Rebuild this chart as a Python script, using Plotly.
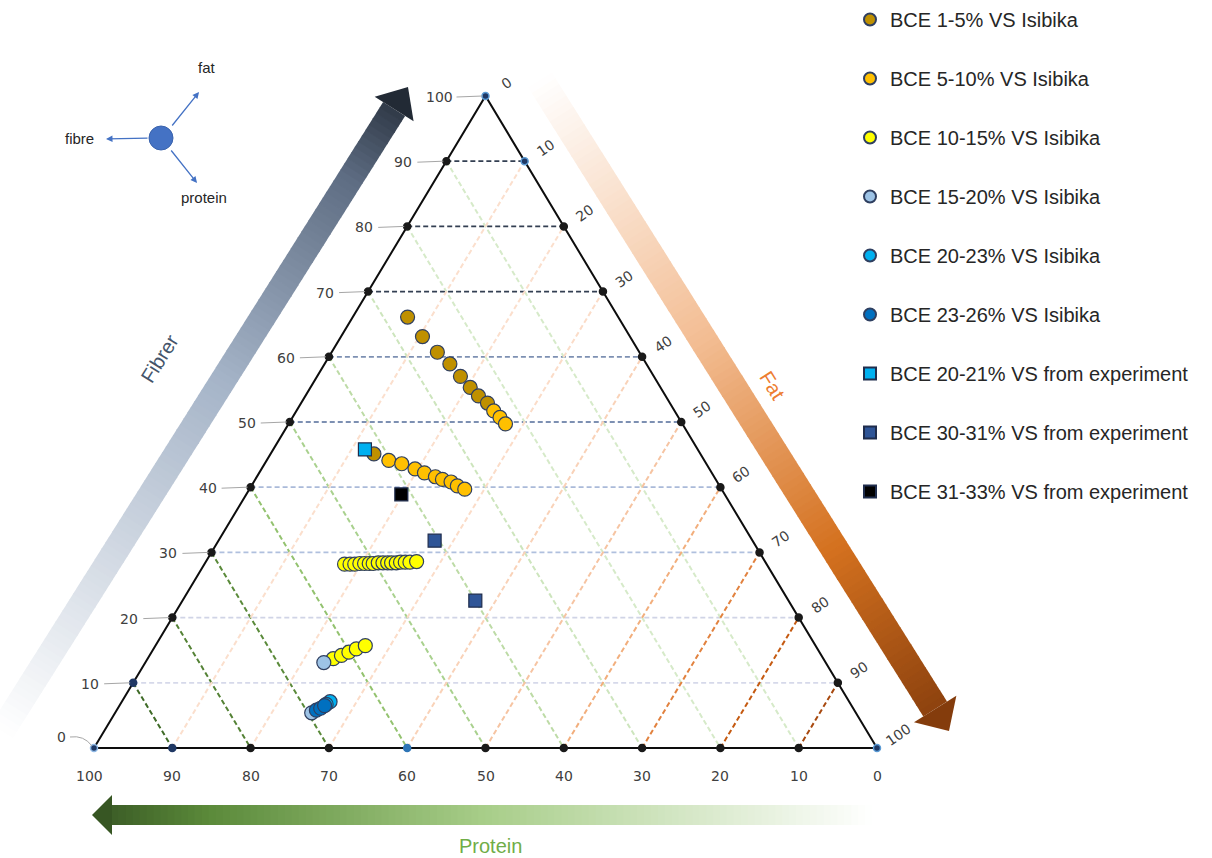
import math
import plotly.graph_objects as go

W, H = 1212, 858

# Frame calibration: base line and scale of the composition triangle (pixels)
X0_PX, UNIT_X = 94.0, 7.83      # protein = 100 corner, px per % along the base
Y0_PX, UNIT_Y = 748.0, 6.52     # base line, px per % of fibre

# ---------------------------------------------------------------- data (%)
names = [
    "BCE 1-5% VS Isibika",
    "BCE 5-10% VS Isibika",
    "BCE 10-15% VS Isibika",
    "BCE 15-20% VS Isibika",
    "BCE 20-23% VS Isibika",
    "BCE 23-26% VS Isibika",
    "BCE 20-21% VS from experiment",
    "BCE 30-31% VS from experiment",
    "BCE 31-33% VS from experiment",
]

bce_1_5_fibre = [66.1, 63.1, 60.7, 58.9, 57.0, 55.3, 54.0, 52.9, 45.1]
bce_1_5_fat = [7.0, 10.4, 13.5, 16.0, 18.3, 20.4, 22.1, 23.8, 13.2]

bce_5_10_fibre = [51.7, 50.7, 49.7, 44.1, 43.6, 42.8, 42.2, 41.6, 41.2, 40.8, 40.2, 39.7]
bce_5_10_fat = [25.2, 26.5, 27.7, 15.6, 17.5, 19.6, 21.1, 22.8, 23.9, 25.2, 26.3, 27.5]

bce_10_15_fibre = [28.2, 28.2, 28.2, 28.3, 28.3, 28.3, 28.3, 28.4, 28.4, 28.4, 28.4,
                   28.4, 28.5, 28.5, 28.5, 28.6, 13.7, 14.2, 14.7, 15.2, 15.7]
bce_10_15_fat = [17.9, 18.6, 19.2, 19.8, 20.4, 21.0, 21.5, 22.1, 22.7, 23.3, 23.8,
                 24.4, 24.9, 25.5, 26.1, 26.9, 23.7, 24.5, 25.2, 25.9, 26.8]

bce_15_20_fibre = [13.1, 5.4]
bce_15_20_fat = [22.8, 25.1]

bce_20_23_fibre = [7.1, 6.7]
bce_20_23_fat = [26.6, 26.3]

bce_23_26_fibre = [5.8, 6.1, 6.5]
bce_23_26_fat = [25.5, 25.9, 26.2]

exp_20_21_fibre = [45.8]
exp_20_21_fat = [11.7]

exp_30_31_fibre = [31.8, 22.6]
exp_30_31_fat = [27.6, 37.4]

exp_31_33_fibre = [38.9]
exp_31_33_fat = [19.8]

tick_values = [0, 10, 20, 30, 40, 50, 60, 70, 80, 90, 100]

fill_colors = ["#bf9000", "#ffc000", "#ffff00", "#9dc3e6", "#00b0f0", "#0070c0",
               "#00b0f0", "#2f5597", "#000000"]
symbols = ["circle"] * 6 + ["square"] * 3

# grid colours, one per level 10..90
fibre_line_colors = ["#d6d9ea", "#d0d4e6", "#b0c0de", "#aabad9", "#7d90b2",
                     "#7d90b2", "#333f52", "#333f52", "#333f52"]
protein_line_colors = {90: "#3f6b27", 80: "#548235", 70: "#5a8a3a", 60: "#93c26f",
                       50: "#a9d18e", 40: "#bddba6", 30: "#cde5bd", 20: "#d6eac9",
                       10: "#d6eac9"}
fat_line_colors = {90: "#a8490f", 80: "#c55a11", 70: "#e2823f", 60: "#f2ae7c",
                   50: "#f6c4a2", 40: "#f9d2b8", 30: "#fbdcc8", 20: "#fbdfcd",
                   10: "#fbdfcd"}


def tern(fibre, fat):
    """Composition (fibre %, fat %) -> plane coordinates of the triangle."""
    return fat + fibre / 2.0, fibre


def paper(px, py):
    return px / W, 1 - py / H


def hex_rgb(h):
    h = h.lstrip("#")
    return tuple(int(h[i:i + 2], 16) for i in (0, 2, 4))


def grad(stops, t):
    for (t0, c0), (t1, c1) in zip(stops[:-1], stops[1:]):
        if t <= t1:
            f = 0 if t1 == t0 else (t - t0) / (t1 - t0)
            a, b = hex_rgb(c0), hex_rgb(c1)
            return "rgb(%d,%d,%d)" % tuple(round(a[i] + (b[i] - a[i]) * f) for i in range(3))
    return "rgb(%d,%d,%d)" % hex_rgb(stops[-1][1])


def gradient_arrow(tail, tip, body_w, head_w, head_len, stops, n=110):
    tx, ty = tail
    hx, hy = tip
    L = math.hypot(hx - tx, hy - ty)
    ux, uy = (hx - tx) / L, (hy - ty) / L
    nx, ny = -uy, ux
    body = L - head_len
    out = []
    for i in range(n):
        s0 = body * i / n
        s1 = min(body, body * (i + 1) / n + 0.8)
        pts = [
            (tx + ux * s0 + nx * body_w / 2, ty + uy * s0 + ny * body_w / 2),
            (tx + ux * s1 + nx * body_w / 2, ty + uy * s1 + ny * body_w / 2),
            (tx + ux * s1 - nx * body_w / 2, ty + uy * s1 - ny * body_w / 2),
            (tx + ux * s0 - nx * body_w / 2, ty + uy * s0 - ny * body_w / 2),
        ]
        path = "M " + " L ".join("%.5f,%.5f" % paper(*p) for p in pts) + " Z"
        out.append(dict(type="path", path=path, xref="paper", yref="paper",
                        fillcolor=grad(stops, (s0 + s1) / 2 / L),
                        line=dict(width=0), layer="below"))
    bx, by = tx + ux * body, ty + uy * body
    pts = [(bx + nx * head_w / 2, by + ny * head_w / 2), (hx, hy),
           (bx - nx * head_w / 2, by - ny * head_w / 2)]
    path = "M " + " L ".join("%.5f,%.5f" % paper(*p) for p in pts) + " Z"
    out.append(dict(type="path", path=path, xref="paper", yref="paper",
                    fillcolor=grad(stops, 1.0), line=dict(width=0), layer="below"))
    return out


fig = go.Figure()
shapes = []

# ---------------------------------------------------------------- gradient axis arrows
shapes += gradient_arrow((2, 731), (408, 87), 26, 46, 26,
                         [(0, "#ffffff"), (0.55, "#a4b3c7"), (0.86, "#5d6c82"), (1, "#222a35")])
shapes += gradient_arrow((540, 80), (949, 731), 28, 50, 26,
                         [(0, "#ffffff"), (0.4, "#f3bd93"), (0.72, "#d4711f"), (1, "#843c0c")])
shapes += gradient_arrow((872, 815), (92, 815), 20, 40, 20,
                         [(0, "#ffffff"), (0.5, "#a7cd88"), (0.85, "#5b8a3a"), (1, "#375623")])

# ---------------------------------------------------------------- dashed grid
levels = [10, 20, 30, 40, 50, 60, 70, 80, 90]
dash = "5px,3px"
for f, col in zip(levels, fibre_line_colors):
    x0, y0 = tern(f, 0)
    x1, y1 = tern(f, 100 - f)
    shapes.append(dict(type="line", xref="x", yref="y", x0=x0, y0=y0, x1=x1, y1=y1,
                       line=dict(color=col, width=1.8, dash=dash), layer="below"))
for p in levels:
    x0, y0 = tern(100 - p, 0)
    x1, y1 = tern(0, 100 - p)
    shapes.append(dict(type="line", xref="x", yref="y", x0=x0, y0=y0, x1=x1, y1=y1,
                       line=dict(color=protein_line_colors[p], width=2, dash=dash), layer="below"))
for a in levels:
    x0, y0 = tern(0, a)
    x1, y1 = tern(100 - a, a)
    shapes.append(dict(type="line", xref="x", yref="y", x0=x0, y0=y0, x1=x1, y1=y1,
                       line=dict(color=fat_line_colors[a], width=2, dash=dash), layer="below"))

# ---------------------------------------------------------------- triangle frame
cx, cy = zip(*[tern(0, 0), tern(100, 0), tern(0, 100), tern(0, 0)])
fig.add_trace(go.Scatter(x=cx, y=cy, mode="lines", line=dict(color="#0d0d0d", width=2),
                         hoverinfo="skip", showlegend=False))

# tick dots on the three sides
dot_x, dot_y, dot_fill, dot_line = [], [], [], []
special = {("L", 10): ("#203864", "#203864"), ("B", 90): ("#203864", "#203864"),
           ("B", 60): ("#2e75b6", "#2e75b6"), ("R", 10): ("#1f3864", "#5b9bd5"),
           ("L", 100): ("#1f3864", "#5b9bd5"), ("L", 0): ("#1f3864", "#8fb9e6"),
           ("R", 100): ("#1f3864", "#5b9bd5")}
for v in tick_values:
    for side, (fb, ft) in (("L", (v, 0)), ("R", (100 - v, v)), ("B", (0, 100 - v))):
        key = (side, v)
        if side == "B" and v in (0, 100):
            continue
        if side == "R" and v == 0:
            continue
        x, y = tern(fb, ft)
        dot_x.append(x)
        dot_y.append(y)
        fc, lc = special.get(key, ("#1a1a1a", "#1a1a1a"))
        dot_fill.append(fc)
        dot_line.append(lc)
fig.add_trace(go.Scatter(x=dot_x, y=dot_y, mode="markers",
                         marker=dict(size=7, color=dot_fill, line=dict(color=dot_line, width=1.5)),
                         hoverinfo="skip", showlegend=False))

# ---------------------------------------------------------------- data series
series = [
    (bce_1_5_fibre, bce_1_5_fat), (bce_5_10_fibre, bce_5_10_fat),
    (bce_10_15_fibre, bce_10_15_fat), (bce_15_20_fibre, bce_15_20_fat),
    (bce_20_23_fibre, bce_20_23_fat), (bce_23_26_fibre, bce_23_26_fat),
    (exp_20_21_fibre, exp_20_21_fat), (exp_30_31_fibre, exp_30_31_fat),
    (exp_31_33_fibre, exp_31_33_fat),
]
for i, (name, (fib, fat)) in enumerate(zip(names, series)):
    xy = [tern(f, a) for f, a in zip(fib, fat)]
    prot = [round(100 - f - a, 1) for f, a in zip(fib, fat)]
    is_sq = symbols[i] == "square"
    fig.add_trace(go.Scatter(
        x=[p[0] for p in xy], y=[p[1] for p in xy], mode="markers", name=name,
        legendgroup="g%d" % i,
        marker=dict(symbol=symbols[i], size=13 if is_sq else 14, color=fill_colors[i],
                    line=dict(color="#1f2d4d" if is_sq else "#2f3f60", width=1.2)),
        customdata=list(zip(fib, fat, prot)),
        hovertemplate="fibre %{customdata[0]}%<br>fat %{customdata[1]}%<br>"
                      "protein %{customdata[2]}%<extra>" + name + "</extra>",
    ))

# ---------------------------------------------------------------- tick labels
ann = []
tick_font = dict(family="DejaVu Sans", size=14, color="#404040")
for v in tick_values:
    # fibre, left side, with a short grey leader
    x, y = tern(v, 0)
    px, py = X0_PX + x * UNIT_X, Y0_PX - y * UNIT_Y
    if v == 0:
        ann.append(dict(x=x, y=y, xref="x", yref="y", text="0", showarrow=False,
                        xanchor="center", yanchor="middle",
                        xshift=-33, yshift=11, font=tick_font))
        a0, a1, a2 = paper(70, 737), paper(84, 735), paper(92, 746)
        shapes.append(dict(type="path", xref="paper", yref="paper",
                           path="M %.5f,%.5f Q %.5f,%.5f %.5f,%.5f" % (a0 + a1 + a2),
                           line=dict(color="#a6a6a6", width=1)))
    else:
        ann.append(dict(x=x, y=y, xref="x", yref="y", text=str(v), showarrow=False,
                        xanchor="center", yanchor="middle",
                        xshift=-46 if v == 100 else -43, yshift=-1, font=tick_font))
        p0, p1 = paper(px - 29, py + 1), paper(px - 3, py)
        shapes.append(dict(type="line", xref="paper", yref="paper", x0=p0[0], y0=p0[1],
                           x1=p1[0], y1=p1[1], line=dict(color="#a6a6a6", width=1)))
    # fat, right side, rotated
    x, y = tern(100 - v, v)
    ann.append(dict(x=x, y=y, xref="x", yref="y", text=str(v), showarrow=False,
                    xanchor="center", yanchor="middle",
                    xshift=21, yshift=13, textangle=-35, font=tick_font))
    # protein, base
    x, y = tern(0, 100 - v)
    ann.append(dict(x=x, y=y, xref="x", yref="y", text=str(v), showarrow=False,
                    xanchor="center", yanchor="middle",
                    xshift=-5 if v == 100 else 0, yshift=-28, font=tick_font))

# ---------------------------------------------------------------- axis titles
title_font = "Liberation Sans"
for txt, (px, py), ang, col in (("Fibrer", (160, 358), -58, "#44546a"),
                                ("Fat", (772, 385), 58, "#ed7d31"),
                                ("Protein", (490, 846), 0, "#70ad47")):
    x, y = paper(px, py)
    ann.append(dict(x=x, y=y, xref="paper", yref="paper", text=txt, showarrow=False,
                    xanchor="center", yanchor="middle", textangle=ang,
                    font=dict(family=title_font, size=20, color=col)))

# ---------------------------------------------------------------- orientation key
c0, c1 = paper(149, 126), paper(173, 150)
shapes.append(dict(type="circle", xref="paper", yref="paper", x0=c0[0], y0=c1[1],
                   x1=c1[0], y1=c0[1], fillcolor="#4472c4", line=dict(color="#3a63ad", width=1)))
for (tipx, tipy), (tailx, taily) in (((199, 92), (171, 127)), ((106, 139), (149, 138)),
                                     ((197, 183), (170, 149))):
    x, y = paper(tipx, tipy)
    ann.append(dict(x=x, y=y, xref="paper", yref="paper", text="", showarrow=True,
                    ax=tailx - tipx, ay=taily - tipy, arrowhead=2, arrowsize=1,
                    arrowwidth=1.3, arrowcolor="#4472c4"))
for txt, (px, py) in (("fat", (207, 68)), ("fibre", (79, 138)), ("protein", (204, 197))):
    x, y = paper(px, py)
    ann.append(dict(x=x, y=y, xref="paper", yref="paper", text=txt, showarrow=False,
                    xanchor="center", yanchor="middle",
                    font=dict(family=title_font, size=15, color="#262626")))

fig.update_layout(
    width=W, height=H,
    margin=dict(l=0, r=0, t=0, b=0),
    paper_bgcolor="white", plot_bgcolor="rgba(0,0,0,0)",
    xaxis=dict(range=[(0 - X0_PX) / UNIT_X, (W - X0_PX) / UNIT_X], visible=False, fixedrange=True),
    yaxis=dict(range=[(Y0_PX - H) / UNIT_Y, Y0_PX / UNIT_Y], visible=False, fixedrange=True),
    shapes=shapes, annotations=ann,
    legend=dict(x=850 / W, y=1.0, xanchor="left", yanchor="top",
                font=dict(family=title_font, size=20, color="#262626"),
                tracegroupgap=30, itemsizing="constant", bgcolor="rgba(0,0,0,0)"),
    showlegend=True,
)

fig.write_html("out.html", config={"displayModeBar": False})
